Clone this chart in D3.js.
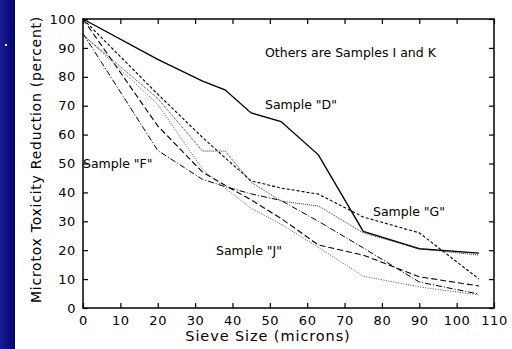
<!DOCTYPE html>
<html>
<head>
<meta charset="utf-8">
<script src="https://cdn.jsdelivr.net/npm/d3@7"></script>
<style>
  body { margin: 0; background: #fff; }
  svg { display: block; }
  text { font-family: "DejaVu Sans", sans-serif; fill: #000; }
</style>
</head>
<body>
<div id="chart"></div>
<script>
// Sieve sizes (microns) where readings were taken
let sieveSizes = [0, 20, 32, 38, 45, 53, 63, 75, 90, 106];

// Toxicity reduction (percent) per sample
let sampleD = [100, 86, 78.5, 75.5, 67.5, 64.5, 53, 26.5, 20.5, 19];
let sampleG = [100, 74, 59, 52, 44, 41.5, 39.4, 31.5, 26, 10];
let sampleI = [94.5, 72.5, 54.3, 54.3, 43.5, 37, 35.3, 26, 20.5, 18.3];
let sampleK = [100, 63, 47, 42.5, 37.4, 31, 21.8, 18.3, 10.8, 7.6];
let sampleF = [95, 54.5, 44.5, 42, 39.5, 37.2, 30, 20.8, 9, 4.8];
let sampleJ = [94.5, 70.5, 48, 41.5, 34.5, 29, 21, 11, 7.3, 4.5];

let xTicks = [0, 10, 20, 30, 40, 50, 60, 70, 80, 90, 100, 110];
let yTicks = [0, 10, 20, 30, 40, 50, 60, 70, 80, 90, 100];

let labels = [
    { text: "Others are Samples I and K", x: 265, y: 57 },
    { text: 'Sample "D"', x: 265, y: 109 },
    { text: 'Sample "G"', x: 373, y: 216 },
    { text: 'Sample "J"', x: 216, y: 255 },
    { text: 'Sample "F"', x: 83, y: 168 }
];

let width = 512;
let height = 349;
let plot = { left: 83, right: 494, top: 19, bottom: 308 };

let svg = d3.select("#chart")
    .append("svg")
    .attr("width", width)
    .attr("height", height);

// blue slide strip on the left
let grad = svg.append("defs").append("linearGradient")
    .attr("id", "band")
    .attr("x1", "0").attr("x2", "1");
grad.append("stop").attr("offset", "0").attr("stop-color", "#1c1c96");
grad.append("stop").attr("offset", "1").attr("stop-color", "#03036e");
svg.append("rect")
    .attr("x", 0).attr("y", 0)
    .attr("width", 15).attr("height", height)
    .attr("fill", "url(#band)");
svg.append("rect")
    .attr("x", 5).attr("y", 44)
    .attr("width", 2).attr("height", 2)
    .attr("fill", "#fff");

let x = d3.scaleLinear().domain([0, 110]).range([plot.left, plot.right]);
let y = d3.scaleLinear().domain([0, 100]).range([plot.bottom, plot.top]);

// axes with inward ticks
let bottomAxis = d3.axisBottom(x).tickValues(xTicks).tickSizeInner(-5).tickSizeOuter(0).tickPadding(8);
let topAxis = d3.axisTop(x).tickValues(xTicks).tickSizeInner(-5).tickSizeOuter(0).tickFormat("");
let leftAxis = d3.axisLeft(y).tickValues(yTicks).tickSizeInner(-5).tickSizeOuter(0).tickPadding(7);
let rightAxis = d3.axisRight(y).tickValues(yTicks).tickSizeInner(-5).tickSizeOuter(0).tickFormat("");

function styleAxis(g) {
    g.select(".domain").remove();
    g.selectAll(".tick line").attr("stroke", "#000").attr("stroke-width", 1.2);
    g.selectAll(".tick text")
        .style("font-family", "'DejaVu Sans', sans-serif")
        .style("font-size", "13px")
        .style("letter-spacing", "0.6px")
        .attr("fill", "#000");
}

svg.append("g").attr("transform", `translate(0,${plot.bottom})`).call(bottomAxis).call(styleAxis);
svg.append("g").attr("transform", `translate(0,${plot.top})`).call(topAxis).call(styleAxis);
svg.append("g").attr("transform", `translate(${plot.left},0)`).call(leftAxis).call(styleAxis);
svg.append("g").attr("transform", `translate(${plot.right},0)`).call(rightAxis).call(styleAxis);

svg.append("rect")
    .attr("x", plot.left).attr("y", plot.top)
    .attr("width", plot.right - plot.left)
    .attr("height", plot.bottom - plot.top)
    .attr("fill", "none")
    .attr("stroke", "#000")
    .attr("stroke-width", 1.5);

// series
let series = [
    { values: sampleD, dash: null, width: 1.4, color: "#000" },
    { values: sampleG, dash: "3,2", width: 1.1, color: "#000" },
    { values: sampleI, dash: "1,1", width: 1, color: "#333" },
    { values: sampleK, dash: "6,3", width: 1.1, color: "#000" },
    { values: sampleF, dash: "6,2,1,2", width: 1, color: "#000" },
    { values: sampleJ, dash: "1,1.5", width: 0.9, color: "#444" }
];

let line = d3.line()
    .x((d) => x(d[0]))
    .y((d) => y(d[1]));

svg.append("g")
    .selectAll("path")
    .data(series)
    .join("path")
    .attr("d", (s) => line(sieveSizes.map((v, i) => [v, s.values[i]])))
    .attr("fill", "none")
    .attr("stroke", (s) => s.color)
    .attr("stroke-width", (s) => s.width)
    .attr("stroke-dasharray", (s) => s.dash);

// annotations
svg.append("g")
    .selectAll("text")
    .data(labels)
    .join("text")
    .attr("x", (d) => d.x)
    .attr("y", (d) => d.y)
    .style("font-size", "12.5px")
    .text((d) => d.text);

// axis titles
svg.append("text")
    .attr("x", 268)
    .attr("y", 341)
    .attr("text-anchor", "middle")
    .style("font-size", "14.5px")
    .style("letter-spacing", "0.9px")
    .text("Sieve Size (microns)");

svg.append("text")
    .attr("transform", `translate(41,${(plot.top + plot.bottom) / 2 - 4}) rotate(-90)`)
    .attr("text-anchor", "middle")
    .style("font-size", "14px")
    .style("letter-spacing", "0.75px")
    .text("Microtox Toxicity Reduction (percent)");
</script>
</body>
</html>
